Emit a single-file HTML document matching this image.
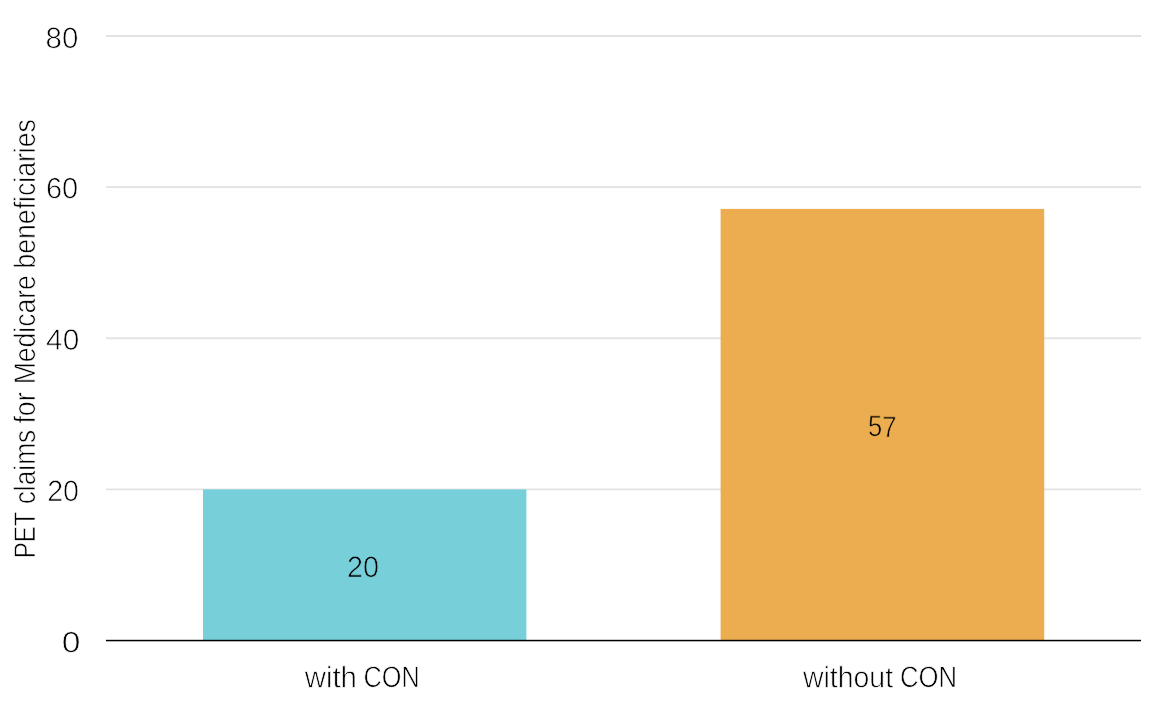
<!DOCTYPE html>
<html>
<head>
<meta charset="utf-8">
<title>PET claims for Medicare beneficiaries</title>
<style>
  html, body { margin: 0; padding: 0; background: #ffffff; }
  body { width: 1170px; height: 708px; overflow: hidden; }
  svg { display: block; }
  text { font-family: "Liberation Sans", sans-serif; fill: #000000; stroke: #ffffff; stroke-width: 0.7px; stroke-linejoin: round; text-anchor: start; text-rendering: geometricPrecision; }
  .on-teal   { stroke: #76cfd9; }
  .on-orange { stroke: #ebad4f; }
</style>
</head>
<body>
<svg width="1170" height="708" viewBox="0 0 1170 708">
  <rect x="0" y="0" width="1170" height="708" fill="#ffffff"/>

  <!-- horizontal grid lines at 80 / 60 / 40 / 20 -->
  <g fill="#e2e2e2">
    <rect x="106" y="35"    width="1035" height="2"/>
    <rect x="106" y="186.2" width="1035" height="1.8"/>
    <rect x="106" y="337.4" width="1035" height="1.8"/>
    <rect x="106" y="488.55" width="1035" height="1.7"/>
  </g>

  <!-- bars -->
  <rect x="203"   y="489.4" width="323.4" height="151"   fill="#76cfd9"/>
  <rect x="720.6" y="208.9" width="323.6" height="431.5" fill="#ebad4f"/>

  <!-- zero baseline -->
  <rect x="106" y="639.8" width="1035" height="1.5" fill="#000000"/>

  <!-- y tick labels -->
  <text class="tick" font-size="29.4" y="47.9" transform="rotate(0.03 61.95 47.9)"><tspan x="45.61" textLength="32.74" lengthAdjust="spacingAndGlyphs">80</tspan></text>
  <text class="tick" font-size="29.4" y="198.35" transform="rotate(0.03 62.2 198.35)"><tspan x="45.9" textLength="32.24" lengthAdjust="spacingAndGlyphs">60</tspan></text>
  <text class="tick" font-size="29.4" y="349.75" transform="rotate(0.03 62.5 349.75)"><tspan x="46.11" textLength="33.11" lengthAdjust="spacingAndGlyphs">40</tspan></text>
  <text class="tick" font-size="29.4" y="500.9" transform="rotate(0.03 63.35 500.9)"><tspan x="47.2" textLength="31.88" lengthAdjust="spacingAndGlyphs">20</tspan></text>
  <text class="tick" font-size="29.4" y="652.35" transform="rotate(0.03 70.9 652.35)"><tspan x="61.69" textLength="18.68" lengthAdjust="spacingAndGlyphs">0</tspan></text>

  <!-- y axis title (rotated) -->
  <text class="ylab" font-size="30" y="0" transform="translate(35.2 556) rotate(-89.97)"><tspan x="-2.16" textLength="46.13" lengthAdjust="spacingAndGlyphs">PET</tspan> <tspan x="51.71" textLength="74.53" lengthAdjust="spacingAndGlyphs">claims</tspan> <tspan x="132.44" textLength="31.2" lengthAdjust="spacingAndGlyphs">for</tspan> <tspan x="171.71" textLength="109.14" lengthAdjust="spacingAndGlyphs">Medicare</tspan> <tspan x="287.5" textLength="149.3" lengthAdjust="spacingAndGlyphs">beneficiaries</tspan></text>

  <!-- bar value labels -->
  <text class="val on-teal" font-size="29.4" y="576.9" transform="rotate(0.03 363.15 576.9)"><tspan x="347.07" textLength="32.03" lengthAdjust="spacingAndGlyphs">20</tspan></text>
  <text class="val on-orange" font-size="29.4" y="436.5" transform="rotate(0.03 882.27 436.5)"><tspan x="868.11" textLength="28.47" lengthAdjust="spacingAndGlyphs">57</tspan></text>

  <!-- category labels -->
  <text class="cat" font-size="29.6" y="687.3" transform="rotate(0.03 361.45 687.3)"><tspan x="304.72" textLength="52.23" lengthAdjust="spacingAndGlyphs">with</tspan> <tspan x="363.53" textLength="56.13" lengthAdjust="spacingAndGlyphs">CON</tspan></text>
  <text class="cat" font-size="29.6" y="687.3" transform="rotate(0.03 879.05 687.3)"><tspan x="802.98" textLength="90.1" lengthAdjust="spacingAndGlyphs">without</tspan> <tspan x="900.09" textLength="57" lengthAdjust="spacingAndGlyphs">CON</tspan></text>
</svg>
</body>
</html>
